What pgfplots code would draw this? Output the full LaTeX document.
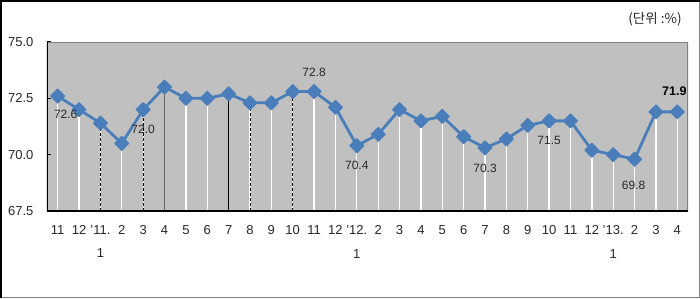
\documentclass[border=0pt]{standalone}
\usepackage{fontspec}
\setmainfont{Liberation Sans}
\newfontfamily\kr{Noto Sans CJK KR}
\usepackage{pgfplots}
\pgfplotsset{compat=1.18}
\definecolor{linec}{RGB}{74,126,187}
\definecolor{bg}{RGB}{192,192,192}
\definecolor{lab}{RGB}{40,40,40}
\definecolor{frameg}{RGB}{128,128,128}
\pgfplotstableread{
x y
0 72.6
1 72.0
2 71.4
3 70.5
4 72.0
5 73.0
6 72.5
7 72.5
8 72.7
9 72.3
10 72.3
11 72.8
12 72.8
13 72.1
14 70.4
15 70.9
16 72.0
17 71.5
18 71.7
19 70.8
20 70.3
21 70.7
22 71.3
23 71.5
24 71.5
25 70.2
26 70.0
27 69.8
28 71.9
29 71.9
}\data
\begin{document}
\begin{tikzpicture}
\useasboundingbox (0,0) rectangle (700pt,298pt);
\fill[white] (0,0) rectangle (700pt,298pt);
\begin{axis}[
  at={(47pt,87pt)}, anchor=south west,
  scale only axis, width=641pt, height=169pt,
  xmin=-0.5, xmax=29.5, ymin=67.5, ymax=75,
  axis background/.style={fill=bg},
  axis line style={draw=none},
  clip=true,
  ytick={67.5,70,72.5,75},
  ytick pos=left, xtick pos=bottom,
  tick align=inside,
  major tick length=4pt,
  tick style={black, line width=1.2pt},
  /pgf/number format/fixed, /pgf/number format/fixed zerofill,
  /pgf/number format/precision=1, /pgf/number format/assume math mode=true,
  yticklabel style={font=\fontsize{13}{15}\selectfont, text=lab, anchor=east, xshift=-10pt},
  xtick={0,...,29},
  xticklabels={11,12,{'11.\\1},2,3,4,5,6,7,8,9,10,11,12,{'12.\\1},2,3,4,5,6,7,8,9,10,11,12,{'13.\\1},2,3,4},
  x tick style={draw=none},
  minor xtick={-0.5,0.5,...,29.5},
  minor tick length=5pt,
  minor tick style={black, line width=1.2pt},
  xticklabel style={font=\fontsize{13}{23.5}\selectfont, text=lab, align=center, anchor=north, yshift=-11pt},
]
% drop lines
\addplot[white, line width=1.3pt, ycomb, mark=none] table[x=x,y=y]{\data};
\addplot[black, line width=0.7pt, dash pattern=on 3pt off 2pt, ycomb, mark=none] coordinates {(2,71.4) (4,72.0) (9,72.3) (11,72.8)};
\addplot[black, line width=0.7pt, ycomb, mark=none] coordinates {(8,72.7)};
\addplot[black!60, line width=1pt, ycomb, mark=none] coordinates {(5,73.0)};
% frame lines
\draw[frameg, line width=1.5pt] (rel axis cs:0,1) -- (rel axis cs:1,1) -- (rel axis cs:1,0);
\draw[black, line width=2pt] (rel axis cs:0,1) -- (rel axis cs:0,0) -- (rel axis cs:1,0);
% main series
\addplot[linec, line width=2.8pt, line join=round, mark=square*, mark size=4.9pt,
  mark options={rotate=45, fill=linec, draw=linec, line width=1.2pt, line join=round}]
  table[x=x,y=y]{\data};
% labels
\addplot[draw=none, mark=none, nodes near coords, point meta=explicit symbolic,
  nodes near coords style={anchor=center, yshift=-20pt, font=\fontsize{12}{14}\selectfont, text=lab}]
  coordinates {(4,72.0)[72.0] (14,70.4)[70.4] (20,70.3)[70.3] (23,71.5)[71.5]};
\addplot[draw=none, mark=none, nodes near coords, point meta=explicit symbolic,
  nodes near coords style={anchor=center, yshift=-18pt, xshift=8pt, font=\fontsize{12}{14}\selectfont, text=lab}]
  coordinates {(0,72.6)[72.6]};
\addplot[draw=none, mark=none, nodes near coords, point meta=explicit symbolic,
  nodes near coords style={anchor=center, yshift=-26pt, xshift=-1pt, font=\fontsize{12}{14}\selectfont, text=lab}]
  coordinates {(27,69.8)[69.8]};
\addplot[draw=none, mark=none, nodes near coords, point meta=explicit symbolic,
  nodes near coords style={anchor=center, yshift=19pt, font=\fontsize{12}{14}\selectfont, text=lab}]
  coordinates {(12,72.8)[72.8]};
\addplot[draw=none, mark=none, nodes near coords, point meta=explicit symbolic,
  nodes near coords style={anchor=center, yshift=21pt, xshift=-3pt, font=\bfseries\fontsize{12.5}{14}\selectfont, text=black}]
  coordinates {(29,71.9)[71.9]};
\end{axis}
\node[anchor=center, text=lab, font=\kr\fontsize{13.5}{15}\selectfont] at (655pt,279pt) {(단위 :\%)};
\draw[frameg, line width=1.2pt] (699.4pt,0pt) -- (699.4pt,298pt);
\draw[frameg, line width=1.2pt] (0pt,0.6pt) -- (700pt,0.6pt);
\draw[black, line width=2pt] (1pt,0pt) -- (1pt,297pt) -- (700pt,297pt);
\end{tikzpicture}
\end{document}
